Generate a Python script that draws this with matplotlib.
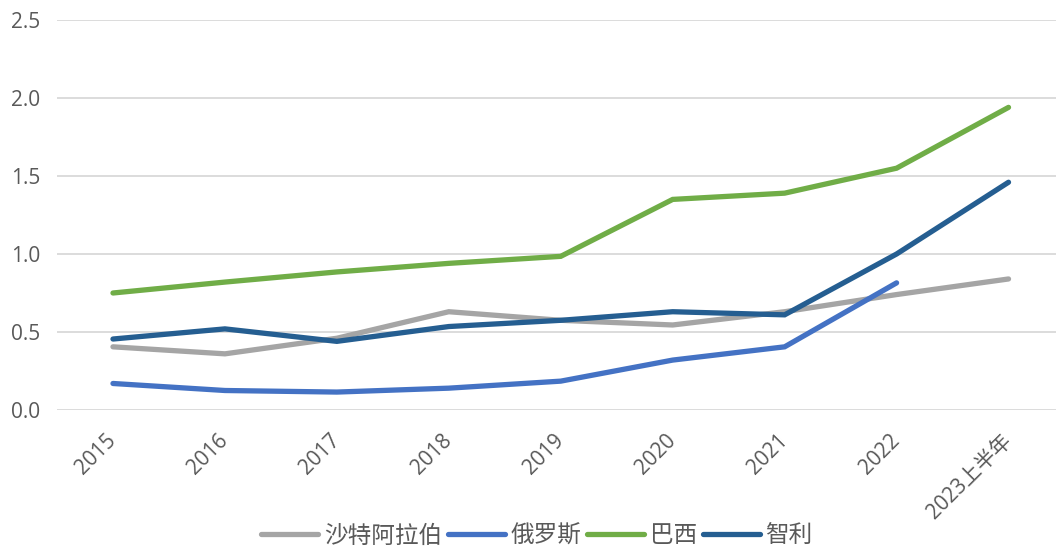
import matplotlib
matplotlib.use("Agg")
import matplotlib.pyplot as plt

plt.rcParams['font.family'] = ['Open Sans', 'Noto Sans CJK SC', 'DejaVu Sans']

categories = ["2015", "2016", "2017", "2018", "2019", "2020", "2021", "2022", "2023上半年"]
saudi = [0.405, 0.36, 0.46, 0.63, 0.575, 0.545, 0.63, 0.74, 0.84]
russia = [0.17, 0.125, 0.115, 0.14, 0.185, 0.32, 0.405, 0.815]
brazil = [0.75, 0.82, 0.885, 0.94, 0.985, 1.35, 1.39, 1.55, 1.94]
chile = [0.455, 0.52, 0.44, 0.535, 0.575, 0.63, 0.61, 1.0, 1.46]
series_names = ["沙特阿拉伯", "俄罗斯", "巴西", "智利"]
colors = ["#A5A5A5", "#4472C4", "#70AD47", "#255E91"]
yticks = [0.0, 0.5, 1.0, 1.5, 2.0, 2.5]

W, H = 1056, 546
fig = plt.figure(figsize=(W / 100, H / 100), dpi=100)
left_px, right_px = 57, 1064.5
bottom_px, top_px = 410, 20
ax = fig.add_axes([left_px / W, (H - bottom_px) / H,
                   (right_px - left_px) / W, (bottom_px - top_px) / H])

x = list(range(len(categories)))
for data, name, c in zip([saudi, russia, brazil, chile], series_names, colors):
    ax.plot(x[:len(data)], data, color=c, lw=3.8, label=name,
            solid_capstyle='round', solid_joinstyle='miter')

ax.set_xlim(-0.5, len(categories) - 0.5)
ax.set_ylim(0, 2.5)
ax.set_yticks(yticks)
ax.set_yticklabels([f"{v:.1f}" for v in yticks])
ax.yaxis.grid(True, color="#D9D9D9", lw=1.3)
ax.set_axisbelow(True)
for s in ax.spines.values():
    s.set_visible(False)
ax.tick_params(axis='y', length=0, pad=12, labelsize=15, labelcolor="#595959")
ax.tick_params(axis='x', length=0, pad=20, labelsize=15, labelcolor="#595959")
ax.set_xticks(x)
ax.set_xticklabels(categories, rotation=45, ha='right', va='center', rotation_mode='anchor')
for lbl in ax.get_xticklabels():
    lbl.set_family(['Open Sans', 'Noto Sans CJK SC', 'DejaVu Sans'])

leg = fig.legend(loc='center', bbox_to_anchor=(537 / W, (H - 536) / H), ncol=4,
                 frameon=False, handlelength=2.4, handletextpad=0.25,
                 columnspacing=0.25, prop={'family': ['Noto Sans CJK SC', 'DejaVu Sans'], 'size': 17})
for t in leg.get_texts():
    t.set_color("#595959")

fig.savefig("out.png", dpi=100)
